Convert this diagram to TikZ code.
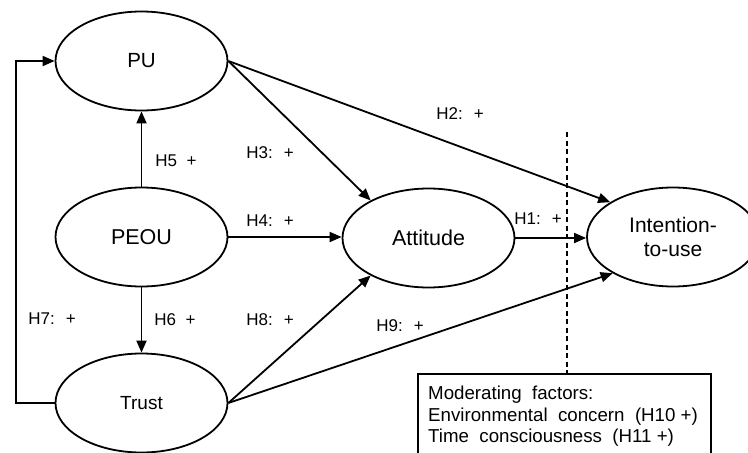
\documentclass[tikz,border=0pt]{standalone}
\usepackage{fontspec}
\setmainfont{Liberation Sans}
\usetikzlibrary{shapes.geometric,arrows.meta}
\begin{document}
\begin{tikzpicture}[x=1pt,y=-1pt,
  construct/.style={ellipse,draw,line width=1.8pt,minimum width=172pt,minimum height=99pt,inner sep=0pt,font=\fontsize{21.5}{24}\selectfont},
  conn/.style={line width=1.8pt,-{Triangle[length=12pt,width=10pt]}},
  hlab/.style={font=\fontsize{17}{20}\selectfont,inner sep=0pt}]
\useasboundingbox (0,0) rectangle (748,453);
\clip (0,0) rectangle (748,453);
\node[construct,font=\fontsize{20.5}{24}\selectfont] (PU) at (141.5,61) {PU};
\node[construct] (PEOU) at (141.5,237) {PEOU};
\node[construct,font=\fontsize{19}{22}\selectfont] (Trust) at (141.5,403) {Trust};
\node[construct] (Att) at (428.5,238) {Attitude};
\node[construct,align=center,font=\fontsize{21}{24.5}\selectfont] (Int) at (673,237) {Intention-\\to-use};
% moderating box
\node[draw,line width=1.8pt,anchor=north west,minimum width=293pt,minimum height=110pt,inner sep=0pt] (box) at (417,373) {};
\node[anchor=north west,align=left,inner sep=0pt,font=\fontsize{18.7}{21.5}\selectfont] (mod) at (428,386)
  {Moderating~ factors:\\Environmental~ concern~ (H10~+)\\Time~ consciousness~ (H11~+)};
\coordinate (dtop) at (567,132);
\draw[line width=1.8pt,dash pattern=on 5pt off 3.5pt] (dtop) -- (dtop |- box.north);
% connectors
\draw[conn] (PEOU) -- (PU);
\draw[conn] (PEOU) -- (Trust);
\draw[conn] (PEOU) -- (PEOU -| Att.west);
\draw[conn] (PU.east) -- (Att.147);
\draw[conn] (PU.east) -- (Int.151);
\draw[conn] (Att.east) -- (Att.east -| Int.west);
\draw[conn] (Trust.east) -- (Att.213);
\draw[conn] (Trust.east) -- (Int.211);
\coordinate (fb) at (16,403);
\draw[conn] (Trust.west) -- (fb) |- (PU.west);
% labels
\node[hlab] (l2) at (460,114) {H2:~ +};
\node[hlab] (l3) at (270,153) {H3:~ +};
\node[hlab] (l5) at (176,161) {H5~ +};
\node[hlab] (l4) at (270,221) {H4:~ +};
\node[hlab] (l1) at (538,219) {H1:~ +};
\node[hlab] (l7) at (52,319) {H7:~ +};
\node[hlab] (l6) at (175,320) {H6~ +};
\node[hlab] (l8) at (270,320) {H8:~ +};
\node[hlab] (l9) at (400,326) {H9:~ +};
\end{tikzpicture}
\end{document}
